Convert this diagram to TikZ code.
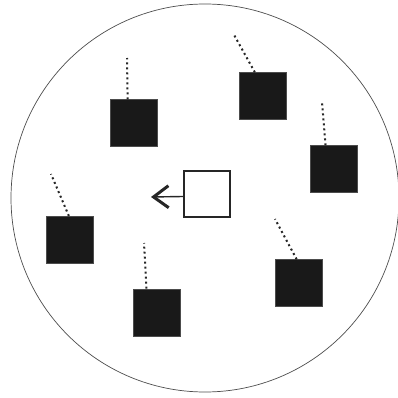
\documentclass[tikz,border=0pt]{standalone}
\usetikzlibrary{arrows.meta}
\colorlet{blkfill}{black!90}

\begin{document}
\begin{tikzpicture}[x=1pt,y=-1pt,
    blk/.style={draw=black!70,fill=blkfill,minimum size=47pt,inner sep=0pt},
    tail/.style={line width=2pt,dash pattern=on 2pt off 3pt,black!85}]
  \useasboundingbox (0,0) rectangle (398,398);
  \pgfmathsetmacro{\Radius}{194};
  %
  \coordinate (O) at (205,198);
  \draw[black!70,line width=0.7pt] (O) circle (\Radius);
  % particles
  \node[blk] (b1) at (134,123) {};
  \node[blk] (b2) at (263,96) {};
  \node[blk] (b3) at (333.7,169) {};
  \node[blk] (b4) at (69.7,239.7) {};
  \node[blk] (b5) at (157,312.3) {};
  \node[blk] (b6) at (298.3,283) {};
  % tails
  \coordinate (t1) at (127,58);
  \coordinate (t2) at (233,33);
  \coordinate (t3) at (322,102);
  \coordinate (t4) at (51,174);
  \coordinate (t5) at (144,243);
  \coordinate (t6) at (275,219);
  \draw[tail] (b1.105) -- (t1);
  \draw[tail] (b2.109) -- (t2);
  \draw[tail] (b3.109) -- (t3);
  \draw[tail] (b4.92) -- (t4);
  \draw[tail] (b5.114) -- (t5);
  \draw[tail] (b6.94) -- (t6);
  % test particle
  \node[draw=black!85,line width=1.4pt,fill=white,minimum size=46pt,inner sep=0pt] (w) at (207,194) {};
  \coordinate (tip) at (151,197);
  \draw[line width=1.4pt,black!85,-{Straight Barb[length=15pt,width=22pt,line width=3pt]}] (w.186) -- (tip);
\end{tikzpicture}
\end{document}
